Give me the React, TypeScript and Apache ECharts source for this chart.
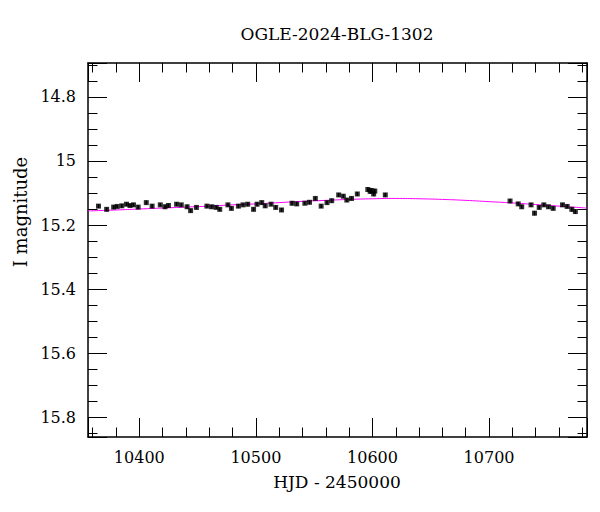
import React, { useEffect, useRef } from "react";
import * as echarts from "echarts";

const chartTitle = "OGLE-2024-BLG-1302";
const xName = "HJD - 2450000";
const yName = "I magnitude";
const xRange = [10356, 10784];
const yRange = [14.694, 15.862];

const obsHjd = [
  10365, 10372, 10378, 10381, 10385, 10389, 10392, 10395, 10399, 10406,
  10411, 10418, 10422, 10425, 10432, 10436, 10441, 10444, 10449, 10458,
  10462, 10466, 10469, 10476, 10479, 10485, 10489, 10493, 10498, 10501,
  10505, 10508, 10513, 10517, 10522, 10531, 10535, 10542, 10546, 10551,
  10556, 10561, 10565, 10571, 10575, 10578, 10582, 10587, 10596, 10598,
  10599, 10601, 10602, 10611, 10718, 10725, 10728, 10736, 10739, 10743,
  10747, 10751, 10755, 10763, 10767, 10771, 10774,
];
const obsMag = [
  15.141, 15.151, 15.144, 15.142, 15.140, 15.135, 15.139, 15.137, 15.144, 15.130,
  15.141, 15.137, 15.143, 15.139, 15.135, 15.137, 15.143, 15.155, 15.145, 15.141,
  15.143, 15.145, 15.151, 15.137, 15.148, 15.141, 15.137, 15.135, 15.151, 15.135,
  15.130, 15.140, 15.135, 15.145, 15.153, 15.132, 15.134, 15.132, 15.129, 15.117,
  15.141, 15.130, 15.124, 15.106, 15.110, 15.122, 15.117, 15.103, 15.089, 15.095,
  15.092, 15.103, 15.094, 15.106, 15.125, 15.134, 15.143, 15.137, 15.163, 15.145,
  15.137, 15.143, 15.148, 15.137, 15.142, 15.151, 15.158,
];
const obsErr = [
  0.006, 0.006, 0.006, 0.005, 0.006, 0.006, 0.005, 0.006, 0.006, 0.006,
  0.006, 0.005, 0.006, 0.006, 0.006, 0.005, 0.006, 0.006, 0.006, 0.006,
  0.006, 0.005, 0.006, 0.006, 0.006, 0.006, 0.005, 0.006, 0.006, 0.006,
  0.006, 0.006, 0.005, 0.006, 0.006, 0.006, 0.006, 0.005, 0.006, 0.006,
  0.006, 0.006, 0.006, 0.006, 0.006, 0.006, 0.006, 0.006, 0.007, 0.007,
  0.007, 0.007, 0.007, 0.006, 0.006, 0.006, 0.006, 0.006, 0.007, 0.006,
  0.006, 0.006, 0.006, 0.006, 0.006, 0.007, 0.007,
];

const modelHjd = [
  10356, 10380, 10400, 10420, 10440, 10460, 10480, 10500, 10520, 10540, 10560,
  10580, 10600, 10620, 10640, 10660, 10680, 10700, 10720, 10740, 10760, 10784,
];
const modelMag = [
  15.156, 15.153, 15.150, 15.147, 15.144, 15.141, 15.137, 15.134, 15.130, 15.126, 15.123,
  15.120, 15.118, 15.117, 15.118, 15.120, 15.123, 15.127, 15.131, 15.136, 15.141, 15.147,
];

const FONT = "DejaVu Serif";

export default function App() {
  const ref = useRef<HTMLDivElement>(null);
  useEffect(() => {
    document.body.style.margin = "0";
    const chart = echarts.init(ref.current!, null, { renderer: "svg" });
    const obs = obsHjd.map((t, i) => [t, obsMag[i], obsErr[i]]);
    const model = modelHjd.map((t, i) => [t, modelMag[i]]);
    const line = { show: true, lineStyle: { color: "#000", width: 1.5 } };
    const tick = { show: true, inside: true, length: 19, lineStyle: { color: "#000", width: 1 } };
    const minorX = { show: true, splitNumber: 5, length: 9.5, lineStyle: { color: "#000", width: 1 } };
    const minorY = { show: true, splitNumber: 4, length: 9.5, lineStyle: { color: "#000", width: 1 } };
    const label = {
      color: "#000",
      fontFamily: FONT,
      fontSize: 16,
      showMinLabel: false,
      showMaxLabel: false,
      formatter: (v: number) => String(Math.round(v * 1000) / 1000),
    };
    const xBase = {
      type: "value",
      min: xRange[0],
      max: xRange[1],
      splitNumber: 5,
      axisLine: line,
      axisTick: tick,
      minorTick: minorX,
      splitLine: { show: false },
    };
    const yBase = {
      type: "value",
      min: yRange[0],
      max: yRange[1],
      inverse: true,
      splitNumber: 5,
      axisLine: line,
      axisTick: tick,
      minorTick: minorY,
      splitLine: { show: false },
    };
    chart.setOption({
      animation: false,
      backgroundColor: "#fff",
      grid: { left: 88, top: 63, width: 499, height: 374 },
      xAxis: [
        { ...xBase, position: "bottom", axisLabel: { ...label, margin: 12 } },
        { ...xBase, position: "top", axisLabel: { show: false } },
      ],
      yAxis: [
        { ...yBase, position: "left", axisLabel: { ...label, margin: 12 } },
        { ...yBase, position: "right", axisLabel: { show: false } },
      ],
      graphic: [
        {
          type: "text",
          x: 337,
          y: 34,
          style: {
            text: chartTitle,
            fontFamily: FONT,
            fontSize: 17,
            fill: "#000",
            textAlign: "center",
            textVerticalAlign: "middle",
          },
        },
        {
          type: "text",
          x: 337,
          y: 482,
          style: {
            text: xName,
            fontFamily: FONT,
            fontSize: 17,
            fill: "#000",
            textAlign: "center",
            textVerticalAlign: "middle",
          },
        },
        {
          type: "text",
          x: 20,
          y: 212,
          rotation: Math.PI / 2,
          style: {
            text: yName,
            fontFamily: FONT,
            fontSize: 18,
            fill: "#000",
            textAlign: "center",
            textVerticalAlign: "middle",
          },
        },
      ],
      series: [
        {
          type: "line",
          data: model,
          showSymbol: false,
          smooth: true,
          lineStyle: { color: "#ff00ff", width: 1 },
          z: 3,
        },
        {
          type: "custom",
          data: obs,
          renderItem: (params: any, api: any) => {
            const x = api.value(0);
            const y = api.value(1);
            const e = api.value(2);
            const p1 = api.coord([x, y - e]);
            const p2 = api.coord([x, y + e]);
            return {
              type: "line",
              shape: { x1: p1[0], y1: p1[1], x2: p2[0], y2: p2[1] },
              style: { stroke: "#000", lineWidth: 1.5 },
            };
          },
          z: 4,
        },
        {
          type: "scatter",
          data: obs,
          symbol: "rect",
          symbolSize: [5, 5],
          itemStyle: { color: "#000" },
          z: 5,
        },
      ],
    });
    return () => chart.dispose();
  }, []);
  return <div ref={ref} style={{ width: 600, height: 512 }} />;
}
